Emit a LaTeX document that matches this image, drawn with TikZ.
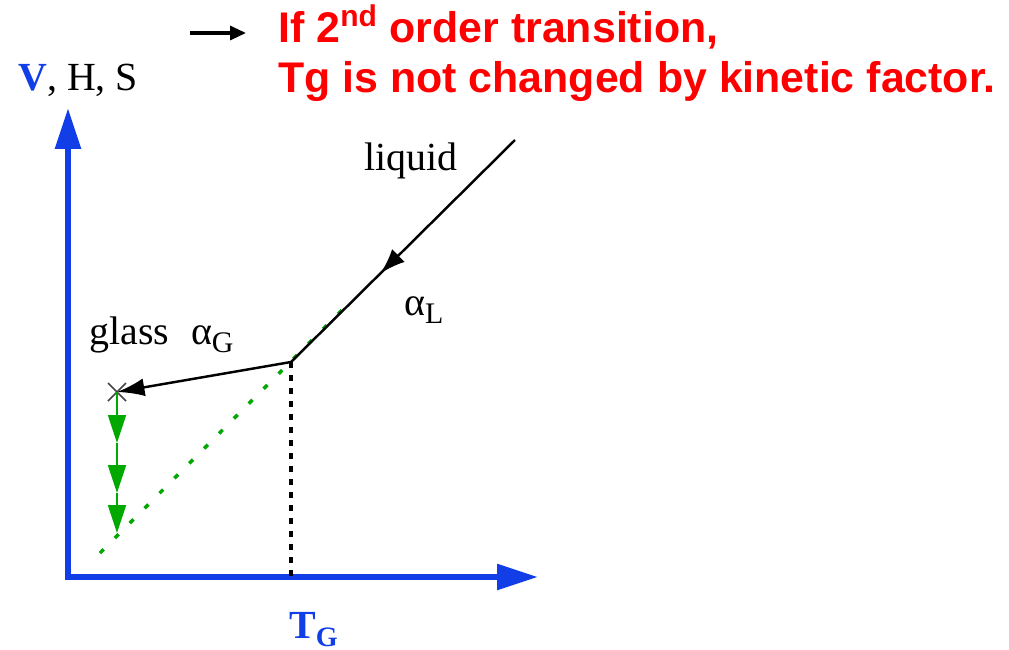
\documentclass[tikz,border=0pt]{standalone}
\usepackage{fontspec}
\setmainfont{Liberation Serif}
\newfontfamily\alertfont{Liberation Sans}
\usetikzlibrary{arrows.meta,decorations.markings}
\definecolor{axisblue}{RGB}{18,62,232}
\definecolor{alertred}{RGB}{255,0,0}
\definecolor{glassgreen}{RGB}{0,168,0}
\definecolor{crossgray}{RGB}{70,70,70}
\tikzset{
  axis/.style={draw=axisblue,line width=3.4pt,line cap=rect,
    -{Triangle[length=8.2mm,width=5mm]}},
  curve/.style={draw=black,line width=1.4pt},
  mid arrow/.style={postaction={decorate},decoration={markings,
    mark=at position #1 with {\arrow{Latex[length=5mm,width=3.6mm]}}}},
  cool/.style={draw=glassgreen,line width=1pt,-{Triangle[length=5.6mm,width=3.6mm]}},
  extra/.style={draw=glassgreen,line width=2pt,dash pattern=on 3pt off 9pt},
  guide/.style={draw=black,line width=2pt,dash pattern=on 3.4pt off 4pt},
  lbl/.style={font=\fontsize{22.7}{26}\selectfont,inner sep=0pt},
  alert/.style={font=\alertfont\bfseries\fontsize{24.4}{28}\selectfont,
    text=alertred,inner sep=0pt,anchor=base west},
}
\begin{document}
\begin{tikzpicture}[x=0.02cm,y=-0.02cm]
  \useasboundingbox (0,0) rectangle (1009,650);
  % axes
  \coordinate (orig) at (68,577);
  \coordinate (ytip) at (68,108);
  \coordinate (xtip) at (538,577);
  \draw[axis] (orig) -- (ytip);
  \draw[axis] (orig) -- (xtip);
  \node[lbl,anchor=base west] (yl) at (18,90) {\textcolor{axisblue}{\textbf{V}}, H, S};
  \node[lbl,anchor=base west,text=axisblue] (xl) at (289,638)
    {\textbf{T}\raisebox{-0.45ex}{\fontsize{16}{18}\selectfont\textbf{G}}};
  % curve
  \coordinate (liqtop) at (515,140);
  \coordinate (tg) at (291,362);
  \coordinate (glx) at (117,392);
  \coordinate (tgfoot) at (291,578);
  \coordinate (exlow) at (100,553);
  \coordinate (exhigh) at (345,307);
  \draw[extra] (exlow) -- (exhigh);
  \draw[guide] (tg) -- (tgfoot);
  \draw[curve,mid arrow=0.6] (liqtop) -- (tg);
  \draw[curve,-{Latex[length=5.5mm,width=3.6mm]}] (tg) -- (glx);
  \draw[crossgray,line width=0.9pt] ([shift={(-9,-9)}]glx) -- ([shift={(9,9)}]glx)
    ([shift={(-9,9)}]glx) -- ([shift={(9,-9)}]glx);
  \coordinate (c1) at (117,443);
  \coordinate (c2) at (117,493);
  \coordinate (c3) at (117,533);
  \draw[cool] (glx) -- (c1);
  \draw[cool] (c1) -- (c2);
  \draw[cool] (c2) -- (c3);
  \node[lbl,anchor=base west] (liq) at (364,170) {liquid};
  \node[lbl,anchor=base west] (al) at (404,315)
    {α\raisebox{-0.45ex}{\fontsize{17}{19}\selectfont L}};
  \node[lbl,anchor=base west] (gl) at (89,344)
    {glass\hspace{0.55em}α\raisebox{-0.45ex}{\fontsize{17}{19}\selectfont G}};
  % remark
  \coordinate (rs) at (190,33);
  \coordinate (re) at (246,33);
  \draw[line width=1.8pt,-{Triangle[length=3.2mm,width=2.8mm]}] (rs) -- (re);
  \node[alert] (r1) at (278,42) {If 2\textsuperscript{nd} order transition,};
  \node[alert] (r2) at (278,92) {Tg is not changed by kinetic factor.};
\end{tikzpicture}
\end{document}
